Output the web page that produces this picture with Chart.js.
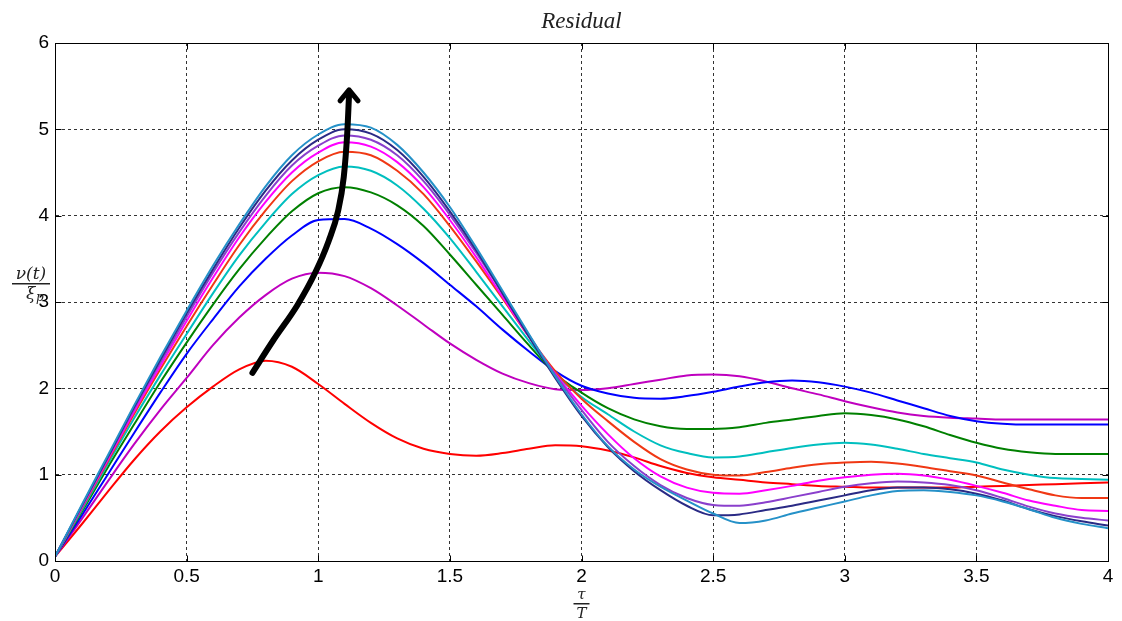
<!DOCTYPE html>
<html>
<head>
<meta charset="utf-8">
<script src="https://cdn.jsdelivr.net/npm/chart.js@4.4.1/dist/chart.umd.min.js"></script>
<style>
  html, body { margin: 0; padding: 0; background: #fff; }
  #wrap { width: 1122px; height: 621px; }
</style>
</head>
<body>
<div id="wrap"><canvas id="residualChart"></canvas></div>
<script>
// tau/T sample points
const xs = [0, 0.1, 0.2, 0.3, 0.4, 0.5, 0.6, 0.7, 0.8, 0.9, 1.0,
            1.1, 1.2, 1.3, 1.4, 1.5, 1.6, 1.7, 1.8, 1.9, 2.0,
            2.1, 2.2, 2.3, 2.4, 2.5, 2.6, 2.7, 2.8, 2.9, 3.0,
            3.1, 3.2, 3.3, 3.4, 3.5, 3.6, 3.7, 3.8, 3.9, 4.0];

const redVals     = [0.05, 0.42, 0.8, 1.17, 1.5, 1.78, 2.02, 2.22, 2.32, 2.25, 2.05,
                     1.82, 1.6, 1.42, 1.3, 1.24, 1.22, 1.25, 1.3, 1.34, 1.33,
                     1.28, 1.2, 1.1, 1.02, 0.97, 0.94, 0.91, 0.89, 0.87, 0.86,
                     0.85, 0.85, 0.85, 0.85, 0.86, 0.87, 0.88, 0.89, 0.9, 0.91];
const magentaVals = [0.05, 0.48, 0.92, 1.35, 1.75, 2.12, 2.5, 2.82, 3.08, 3.27, 3.34,
                     3.3, 3.16, 2.96, 2.74, 2.52, 2.33, 2.17, 2.06, 1.99, 1.98,
                     2.0, 2.05, 2.1, 2.15, 2.16, 2.14, 2.08, 2.0, 1.93, 1.85,
                     1.78, 1.72, 1.68, 1.66, 1.65, 1.64, 1.64, 1.64, 1.64, 1.64];
const blueVals    = [0.05, 0.52, 1.0, 1.48, 1.95, 2.4, 2.8, 3.18, 3.5, 3.77, 3.95,
                     3.96, 3.85, 3.67, 3.45, 3.2, 2.95, 2.68, 2.43, 2.2, 2.03,
                     1.94, 1.89, 1.88, 1.91, 1.96, 2.02, 2.07, 2.09, 2.07, 2.02,
                     1.95, 1.86, 1.77, 1.68, 1.62, 1.59, 1.58, 1.58, 1.58, 1.58];
const greenVals   = [0.05, 0.56, 1.08, 1.58, 2.07, 2.53, 2.97, 3.38, 3.74, 4.05, 4.26,
                     4.33, 4.27, 4.12, 3.88, 3.55, 3.2, 2.85, 2.5, 2.17, 1.95,
                     1.77, 1.64, 1.56, 1.53, 1.53, 1.55, 1.6, 1.64, 1.68, 1.71,
                     1.69, 1.64, 1.56, 1.46, 1.37, 1.3, 1.26, 1.24, 1.24, 1.24];
const cyanVals    = [0.05, 0.58, 1.12, 1.65, 2.15, 2.63, 3.1, 3.54, 3.92, 4.25, 4.47,
                     4.57, 4.52, 4.35, 4.08, 3.74, 3.35, 2.95, 2.55, 2.17, 1.9,
                     1.7, 1.5, 1.34, 1.25, 1.2, 1.21, 1.26, 1.31, 1.35, 1.37,
                     1.35, 1.3, 1.24, 1.19, 1.14, 1.06, 1.0, 0.96, 0.95, 0.94];
const orangeVals  = [0.05, 0.6, 1.15, 1.7, 2.22, 2.72, 3.2, 3.66, 4.06, 4.4, 4.63,
                     4.74, 4.7, 4.52, 4.25, 3.88, 3.47, 3.04, 2.6, 2.2, 1.88,
                     1.62, 1.38, 1.18, 1.06, 1.0, 0.99, 1.03, 1.08, 1.12, 1.14,
                     1.15, 1.13, 1.09, 1.04, 0.99, 0.91, 0.83, 0.76, 0.73, 0.73];
const pinkVals    = [0.05, 0.61, 1.17, 1.73, 2.26, 2.78, 3.28, 3.75, 4.16, 4.5, 4.73,
                     4.85, 4.8, 4.62, 4.33, 3.95, 3.52, 3.06, 2.6, 2.17, 1.8,
                     1.47, 1.19, 0.98, 0.85, 0.79, 0.78, 0.82, 0.87, 0.93, 0.97,
                     1.0, 1.01, 0.99, 0.94, 0.87, 0.79, 0.7, 0.64, 0.59, 0.58];
const purpleVals  = [0.05, 0.62, 1.19, 1.76, 2.3, 2.83, 3.34, 3.81, 4.23, 4.58, 4.81,
                     4.93, 4.88, 4.7, 4.4, 4.01, 3.57, 3.1, 2.62, 2.16, 1.75,
                     1.38, 1.1, 0.88, 0.73, 0.65, 0.64, 0.68, 0.74, 0.8, 0.86,
                     0.9, 0.92, 0.91, 0.88, 0.82, 0.73, 0.63, 0.55, 0.5, 0.47];
const navyVals    = [0.05, 0.63, 1.2, 1.78, 2.33, 2.87, 3.38, 3.86, 4.29, 4.64, 4.88,
                     5.0, 4.95, 4.76, 4.45, 4.05, 3.6, 3.1, 2.6, 2.12, 1.68,
                     1.32, 1.04, 0.82, 0.64, 0.53, 0.54, 0.59, 0.64, 0.7, 0.76,
                     0.82, 0.85, 0.85, 0.83, 0.78, 0.7, 0.6, 0.52, 0.46, 0.41];
const skyVals     = [0.05, 0.64, 1.22, 1.8, 2.36, 2.9, 3.42, 3.9, 4.34, 4.7, 4.94,
                     5.06, 5.02, 4.82, 4.5, 4.1, 3.63, 3.13, 2.63, 2.14, 1.7,
                     1.33, 1.06, 0.86, 0.7, 0.55, 0.44, 0.47, 0.55, 0.62, 0.69,
                     0.76, 0.81, 0.82, 0.8, 0.76, 0.69, 0.6, 0.5, 0.43, 0.38];

const seriesVals   = [redVals, magentaVals, blueVals, greenVals, cyanVals,
                      orangeVals, pinkVals, purpleVals, navyVals, skyVals];
const seriesColors = ['#ff0000', '#bf00bf', '#0000ff', '#008000', '#00bfbf',
                      '#f03814', '#ff00ff', '#8a3fcc', '#2a2a85', '#2591c8'];

// black trend arrow (data space)
const arrowX = [0.75, 0.83, 0.92, 0.99, 1.04, 1.075, 1.097, 1.11, 1.117];
const arrowY = [2.18, 2.56, 2.96, 3.35, 3.71, 4.05, 4.45, 4.95, 5.40];

const xTicks = [0, 0.5, 1, 1.5, 2, 2.5, 3, 3.5, 4];
const yTicks = [0, 1, 2, 3, 4, 5, 6];

const datasets = seriesVals.map((vals, i) => ({
    data: xs.map((x, k) => ({x: x, y: vals[k]})),
    borderColor: seriesColors[i],
    borderWidth: 2,
    pointRadius: 0,
    fill: false,
    cubicInterpolationMode: 'monotone',
    order: seriesVals.length - i
}));

datasets.push({
    data: arrowX.map((x, k) => ({x: x, y: arrowY[k]})),
    borderColor: '#000',
    borderWidth: 6,
    borderCapStyle: 'round',
    borderJoinStyle: 'round',
    pointRadius: 0,
    fill: false,
    cubicInterpolationMode: 'monotone',
    order: -1
});

const serif = '"DejaVu Serif", "Liberation Serif", serif';

const decor = {
    id: 'decor',
    afterDatasetsDraw(chart) {
        const {ctx, chartArea: a, scales} = chart;
        const sx = scales.x, sy = scales.y;
        const L = Math.round(sx.getPixelForValue(0)) + 0.5;
        const R = Math.round(sx.getPixelForValue(4)) + 0.5;
        const T = Math.round(sy.getPixelForValue(6)) + 0.5;
        const B = Math.round(sy.getPixelForValue(0)) + 0.5;
        ctx.save();
        // frame
        ctx.strokeStyle = '#000';
        ctx.lineWidth = 1;
        ctx.setLineDash([]);
        ctx.strokeRect(L, T, R - L, B - T);
        // inward ticks
        ctx.beginPath();
        xTicks.forEach(v => {
            const p = Math.round(sx.getPixelForValue(v)) + 0.5;
            ctx.moveTo(p, B); ctx.lineTo(p, B - 6);
            ctx.moveTo(p, T); ctx.lineTo(p, T + 6);
        });
        yTicks.forEach(v => {
            const p = Math.round(sy.getPixelForValue(v)) + 0.5;
            ctx.moveTo(L, p); ctx.lineTo(L + 6, p);
            ctx.moveTo(R, p); ctx.lineTo(R - 6, p);
        });
        ctx.stroke();
        // arrowhead at the end of the trend arrow
        const n = arrowX.length;
        const tx = sx.getPixelForValue(arrowX[n - 1]), ty = sy.getPixelForValue(arrowY[n - 1]) - 5;
        ctx.lineWidth = 5;
        ctx.lineCap = 'round';
        ctx.lineJoin = 'round';
        ctx.beginPath();
        ctx.moveTo(tx - 9, ty + 11);
        ctx.lineTo(tx, ty);
        ctx.lineTo(tx + 9, ty + 11);
        ctx.stroke();
        // title
        ctx.fillStyle = '#222';
        ctx.font = 'italic 23px "Liberation Serif", serif';
        ctx.textAlign = 'center';
        ctx.textBaseline = 'alphabetic';
        ctx.fillText('Residual', (a.left + a.right) / 2, 28);
        // y label: nu(t) / xi_p
        ctx.font = 'italic 17px ' + serif;
        ctx.fillText('\u03bd(t)', 31, 279);
        ctx.fillRect(12, 283, 38, 1.5);
        ctx.textAlign = 'left';
        ctx.fillText('\u03be', 26, 299);
        ctx.font = 'italic 12px ' + serif;
        ctx.fillText('p', 36, 301);
        // x label: tau / T
        ctx.textAlign = 'center';
        const cx = (a.left + a.right) / 2;
        ctx.font = 'italic 15px ' + serif;
        ctx.fillText('\u03c4', cx, 599);
        ctx.fillRect(cx - 8, 603, 16, 1.5);
        ctx.fillText('T', cx, 618);
        ctx.restore();
    }
};

new Chart(document.getElementById('residualChart'), {
    type: 'line',
    data: { datasets: datasets },
    plugins: [decor],
    options: {
        responsive: true,
        maintainAspectRatio: false,
        animation: false,
        events: [],
        layout: { padding: { left: 0, top: 43, right: 14, bottom: 0 } },
        plugins: { legend: { display: false }, tooltip: { enabled: false } },
        scales: {
            x: {
                type: 'linear',
                min: 0,
                max: 4,
                afterFit: s => { s.height = 60; },
                afterBuildTicks: s => { s.ticks = xTicks.map(v => ({value: v})); },
                ticks: {
                    color: '#000',
                    font: { family: 'Arial, "Liberation Sans", sans-serif', size: 19 },
                    padding: 4,
                    maxRotation: 0,
                    callback: v => String(v)
                },
                grid: { color: '#333', lineWidth: 1, drawTicks: false },
                border: { color: '#000', width: 1, dash: [3, 3] }
            },
            y: {
                min: 0,
                max: 6,
                afterFit: s => { s.width = 55; },
                afterBuildTicks: s => { s.ticks = yTicks.map(v => ({value: v})); },
                ticks: {
                    color: '#000',
                    font: { family: 'Arial, "Liberation Sans", sans-serif', size: 19 },
                    padding: 6,
                    callback: v => String(v)
                },
                grid: { color: '#333', lineWidth: 1, drawTicks: false },
                border: { color: '#000', width: 1, dash: [3, 3] }
            }
        }
    }
});
</script>
</body>
</html>
